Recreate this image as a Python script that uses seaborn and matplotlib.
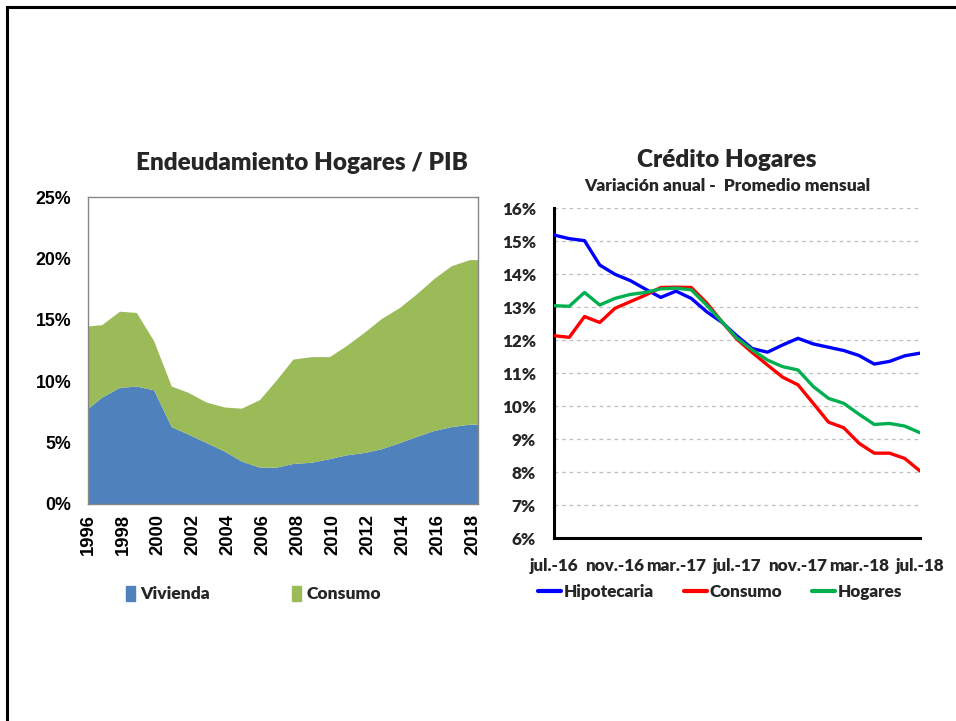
import matplotlib
matplotlib.use("Agg")
import matplotlib.pyplot as plt
from matplotlib.patches import Patch, Rectangle
from matplotlib.lines import Line2D
import matplotlib.ticker as mticker
import seaborn as sns
import pandas as pd

# ---- Endeudamiento de hogares / PIB (%), stacked area ----
anios = [1996.0, 1996.78, 1997.8, 1998.76, 1999.75, 2000.76, 2001.71, 2002.76,
         2003.8, 2004.76, 2005.8, 2006.76, 2007.71, 2008.76, 2009.8, 2010.76,
         2011.8, 2012.76, 2013.8, 2014.76, 2015.8, 2016.76, 2017.8, 2018.29]
vivienda = [7.8, 8.7, 9.5, 9.6, 9.3, 6.3, 5.7, 5.0, 4.3, 3.5, 3.0, 3.0,
            3.3, 3.4, 3.7, 4.0, 4.2, 4.5, 5.0, 5.5, 6.0, 6.3, 6.5, 6.5]
consumo = [6.7, 5.9, 6.2, 6.0, 4.0, 3.3, 3.4, 3.3, 3.6, 4.3, 5.5, 7.1,
           8.5, 8.6, 8.3, 8.9, 9.8, 10.6, 11.0, 11.6, 12.4, 13.1, 13.4, 13.4]
anios_ticks = [1996, 1998, 2000, 2002, 2004, 2006, 2008, 2010, 2012, 2014, 2016, 2018]

# ---- Crédito hogares, variación anual (%) ----
meses = ["jul.-16", "ago.-16", "sep.-16", "oct.-16", "nov.-16", "dic.-16",
         "ene.-17", "feb.-17", "mar.-17", "abr.-17", "may.-17", "jun.-17",
         "jul.-17", "ago.-17", "sep.-17", "oct.-17", "nov.-17", "dic.-17",
         "ene.-18", "feb.-18", "mar.-18", "abr.-18", "may.-18", "jun.-18", "jul.-18"]
hipotecaria = [15.19, 15.08, 15.02, 14.28, 14.0, 13.81, 13.55, 13.3, 13.49,
               13.27, 12.87, 12.55, 12.13, 11.75, 11.64, 11.86, 12.06, 11.89,
               11.79, 11.69, 11.54, 11.28, 11.36, 11.53, 11.61]
consumo_var = [12.14, 12.09, 12.72, 12.54, 12.97, 13.17, 13.37, 13.6, 13.61,
               13.6, 13.14, 12.57, 12.03, 11.63, 11.25, 10.88, 10.65, 10.09,
               9.52, 9.35, 8.88, 8.58, 8.58, 8.42, 8.04]
hogares = [13.05, 13.03, 13.45, 13.07, 13.27, 13.39, 13.45, 13.56, 13.58,
           13.53, 13.07, 12.57, 12.06, 11.71, 11.4, 11.2, 11.1, 10.6,
           10.24, 10.09, 9.76, 9.45, 9.48, 9.4, 9.2]
meses_ticks = ["jul.-16", "nov.-16", "mar.-17", "jul.-17", "nov.-17", "mar.-18", "jul.-18"]

sns.set_theme(style="white")
plt.rcParams["font.family"] = ["Lato", "DejaVu Sans"]

AZUL_AREA = "#4F81BD"
VERDE_AREA = "#9BBB59"
C_HIPO = "#0000FF"
C_CONS = "#FF0000"
C_HOG = "#00B050"
PESO = "heavy"

fig = plt.figure(figsize=(9.56, 7.21), dpi=100)

# outer frame
fig.patches.append(Rectangle((7 / 956, -0.05), 1.1, 1 - 7 / 721 + 0.05,
                             transform=fig.transFigure, fill=False,
                             edgecolor="black", linewidth=2.2, zorder=10))

# ---------------- left panel ----------------
ax1 = fig.add_axes([88 / 956, 1 - 504 / 721, 390 / 956, 307 / 721])
df_area = pd.DataFrame({"anio": anios, "Vivienda": vivienda, "Consumo": consumo})
df_area["Total"] = df_area["Vivienda"] + df_area["Consumo"]
ax1.fill_between(df_area["anio"], 0, df_area["Vivienda"], color=AZUL_AREA, linewidth=0)
ax1.fill_between(df_area["anio"], df_area["Vivienda"], df_area["Total"],
                 color=VERDE_AREA, linewidth=0)
ax1.set_xlim(1996, 2018.29)
ax1.set_ylim(0, 25)
ax1.set_yticks([0, 5, 10, 15, 20, 25])
ax1.yaxis.set_major_formatter(mticker.FuncFormatter(lambda v, p: f"{v:.0f}%"))
ax1.set_xticks(anios_ticks)
ax1.set_xticklabels([str(a) for a in anios_ticks], rotation=90,
                    family="Liberation Sans", fontweight="bold", fontsize=13.3)
for lab in ax1.get_yticklabels():
    lab.set_family("Liberation Sans")
    lab.set_fontweight("bold")
    lab.set_fontsize(12.8)
for sp in ax1.spines.values():
    sp.set_color("#868686")
    sp.set_linewidth(1.0)
ax1.tick_params(axis="both", direction="out", length=4, color="#868686",
                width=1.0, pad=3, labelcolor="black")
ax1.tick_params(axis="y", pad=8)
ax1.set_xlabel("")
ax1.set_ylabel("")
fig.text(302 / 956, 1 - 163 / 721, "Endeudamiento Hogares / PIB", ha="center",
         va="center", fontsize=17.5, fontweight=PESO)
ax1.legend(handles=[Patch(color=AZUL_AREA, label="Vivienda"),
                    Patch(color=VERDE_AREA, label="Consumo")],
           loc="center left", bbox_to_anchor=(110 / 956, 1 - 594 / 721),
           bbox_transform=fig.transFigure, ncol=2, frameon=False,
           handlelength=0.55, handleheight=1.0, handletextpad=0.3,
           columnspacing=4.65, prop={"weight": PESO, "size": 12.6})

# ---------------- right panel ----------------
ax2 = fig.add_axes([554 / 956, 1 - 538.3 / 721, 366 / 956, 330 / 721])
df_lin = pd.DataFrame({"mes": list(range(len(meses))) * 3,
                       "valor": hipotecaria + consumo_var + hogares,
                       "serie": ["Hipotecaria"] * len(meses) + ["Consumo"] * len(meses)
                       + ["Hogares"] * len(meses)})
sns.lineplot(data=df_lin, x="mes", y="valor", hue="serie",
             palette={"Hipotecaria": C_HIPO, "Consumo": C_CONS, "Hogares": C_HOG},
             linewidth=2.4, ax=ax2, legend=False, zorder=3)
ax2.set_xlim(0, len(meses) - 1)
ax2.set_ylim(6, 16)
ax2.set_yticks(range(6, 17))
ax2.yaxis.set_major_formatter(mticker.FuncFormatter(lambda v, p: f"{v:.0f}%"))
ax2.set_xticks([meses.index(m) for m in meses_ticks])
ax2.set_xticklabels(meses_ticks)
ax2.grid(axis="y", color="#BFBFBF", linestyle=(0, (3, 3)), linewidth=0.9)
ax2.set_axisbelow(True)
for side in ("top", "right"):
    ax2.spines[side].set_visible(False)
for side in ("left", "bottom"):
    ax2.spines[side].set_color("black")
    ax2.spines[side].set_linewidth(2.2)
ax2.tick_params(axis="both", direction="in", length=4, width=1.8, color="black")
ax2.tick_params(axis="x", pad=14)
ax2.tick_params(axis="y", pad=13)
for lab in ax2.get_xticklabels() + ax2.get_yticklabels():
    lab.set_fontweight(PESO)
    lab.set_fontsize(12.3)
ax2.set_xlabel("")
ax2.set_ylabel("")
fig.text(727 / 956, 1 - 160 / 721, "Crédito Hogares", ha="center", va="center",
         fontsize=17.5, fontweight=PESO)
fig.text(727 / 956, 1 - 186 / 721, "Variación anual -  Promedio mensual",
         ha="center", va="center", fontsize=12.5, fontweight=PESO)
ax2.legend(handles=[Line2D([], [], color=C_HIPO, lw=3, label="Hipotecaria"),
                    Line2D([], [], color=C_CONS, lw=3, label="Consumo"),
                    Line2D([], [], color=C_HOG, lw=3, label="Hogares")],
           loc="center left", bbox_to_anchor=(523 / 956, 1 - 592 / 721),
           bbox_transform=fig.transFigure, ncol=3, frameon=False,
           handlelength=1.35, handletextpad=0.15, columnspacing=1.75,
           prop={"weight": PESO, "size": 12.3})

fig.savefig("out.png", dpi=100)
